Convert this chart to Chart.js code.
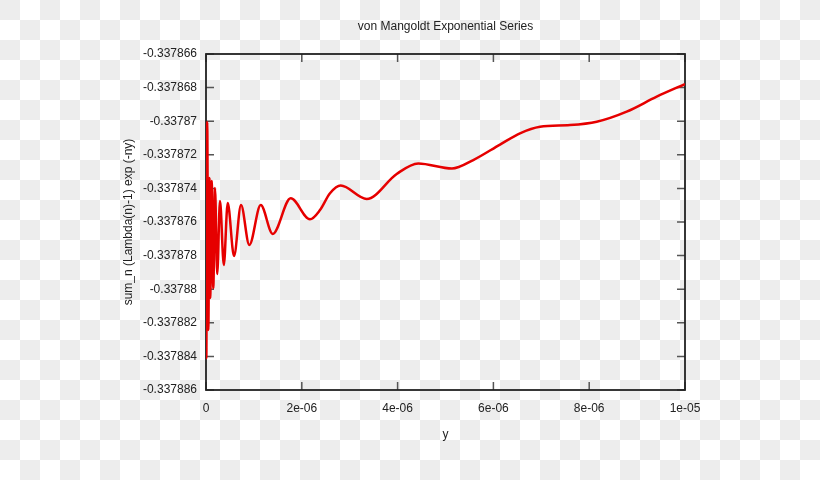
<!DOCTYPE html>
<html>
<head>
<meta charset="utf-8">
<title>von Mangoldt Exponential Series</title>
<script src="https://cdn.jsdelivr.net/npm/chart.js@4"></script>
<style>
  html, body { margin: 0; padding: 0; }
  body {
    width: 820px;
    height: 480px;
    /* transparency checkerboard of the original png */
    background: repeating-conic-gradient(#fff 0 25%, #ededed 0 50%) 0 0 / 40px 40px;
  }
  canvas { display: block; }
</style>
</head>
<body>
<canvas id="chart" width="820" height="480"></canvas>
<script>
// Data (y, sum value)
const yParam = [
  0, 0.0063e-6, 0.025e-6, 0.048e-6, 0.073e-6, 0.088e-6, 0.119e-6, 0.152e-6,
  0.188e-6, 0.234e-6, 0.292e-6, 0.372e-6, 0.453e-6, 0.585e-6, 0.731e-6, 0.904e-6,
  1.142e-6, 1.393e-6, 1.768e-6, 2.171e-6, 2.380e-6, 2.589e-6, 2.812e-6, 3.355e-6,
  3.981e-6, 4.432e-6, 5.135e-6, 5.580e-6, 6.138e-6, 6.555e-6, 6.974e-6, 7.599e-6,
  8.157e-6, 8.783e-6, 9.409e-6, 1.0e-5
];
const seriesSum = [
  -0.33788064, -0.33788410, -0.33787005, -0.33788243, -0.33787338, -0.33788052, -0.33787356, -0.33787993,
  -0.33787398, -0.33787910, -0.33787475, -0.33787856, -0.33787487, -0.33787802, -0.33787499, -0.33787737,
  -0.33787499, -0.33787671, -0.33787459, -0.33787584, -0.33787529, -0.33787429, -0.33787383, -0.33787463,
  -0.33787314, -0.33787252, -0.33787282, -0.33787231, -0.33787139, -0.33787072, -0.33787033, -0.33787023,
  -0.33787003, -0.33786943, -0.33786854, -0.33786779
];

// Tick values and labels
const xTicks = [0, 2e-6, 4e-6, 6e-6, 8e-6, 1e-5];
const xTickLabels = ['0', '2e-06', '4e-06', '6e-06', '8e-06', '1e-05'];
const yTicks = [
  -0.337886, -0.337884, -0.337882, -0.33788, -0.337878, -0.337876,
  -0.337874, -0.337872, -0.33787, -0.337868, -0.337866
];
const yTickLabels = [
  '-0.337886', '-0.337884', '-0.337882', '-0.33788', '-0.337878', '-0.337876',
  '-0.337874', '-0.337872', '-0.33787', '-0.337868', '-0.337866'
];

const chartTitle = 'von Mangoldt Exponential Series';
const TICK_LEN = 8;

Chart.defaults.font.family = '"Liberation Sans", Arial, sans-serif';
Chart.defaults.font.size = 12;
Chart.defaults.color = '#222';

// gnuplot style frame with inward ticks on all four sides, plus the title
// centred over the plot area (Chart.js centres its title on the whole canvas)
const framePlugin = {
  id: 'frame',
  beforeDatasetsDraw(chart) {
    const { ctx, chartArea: a, scales: { x, y } } = chart;
    ctx.save();
    ctx.strokeStyle = '#555';
    ctx.lineWidth = 1.5;
    ctx.beginPath();
    x.ticks.forEach(t => {
      const px = x.getPixelForValue(t.value);
      ctx.moveTo(px, a.bottom);
      ctx.lineTo(px, a.bottom - TICK_LEN);
      ctx.moveTo(px, a.top);
      ctx.lineTo(px, a.top + TICK_LEN);
    });
    y.ticks.forEach(t => {
      const py = y.getPixelForValue(t.value);
      ctx.moveTo(a.left, py);
      ctx.lineTo(a.left + TICK_LEN, py);
      ctx.moveTo(a.right, py);
      ctx.lineTo(a.right - TICK_LEN, py);
    });
    ctx.stroke();
    ctx.strokeStyle = '#222';
    ctx.lineWidth = 1.8;
    ctx.strokeRect(a.left, a.top, a.right - a.left, a.bottom - a.top);

    ctx.fillStyle = '#222';
    ctx.font = '12px "Liberation Sans", Arial, sans-serif';
    ctx.textAlign = 'center';
    ctx.textBaseline = 'middle';
    ctx.fillText(chartTitle, (a.left + a.right) / 2, a.top - 27);
    ctx.restore();
  }
};

new Chart(document.getElementById('chart'), {
  type: 'line',
  data: {
    datasets: [{
      data: yParam.map((v, i) => ({ x: v, y: seriesSum[i] })),
      borderColor: 'rgb(230, 0, 0)',
      borderWidth: 2.5,
      pointRadius: 0,
      fill: false,
      cubicInterpolationMode: 'monotone'
    }]
  },
  options: {
    responsive: false,
    devicePixelRatio: 1,
    animation: false,
    layout: { padding: { left: 0, right: 135, top: 54, bottom: 0 } },
    plugins: {
      legend: { display: false },
      tooltip: { enabled: false },
      title: { display: false }
    },
    scales: {
      x: {
        type: 'linear',
        min: 0,
        max: 1e-5,
        grid: { display: false, drawTicks: false },
        border: { display: false },
        afterBuildTicks: scale => { scale.ticks = xTicks.map(v => ({ value: v })); },
        afterFit: scale => { scale.height = 90; },
        ticks: {
          autoSkip: false,
          maxRotation: 0,
          padding: 11,
          callback: (value, index) => xTickLabels[index]
        },
        title: {
          display: true,
          text: 'y',
          padding: { top: 0, bottom: 38 }
        }
      },
      y: {
        type: 'linear',
        min: -0.337886,
        max: -0.337866,
        grid: { display: false, drawTicks: false },
        border: { display: false },
        afterBuildTicks: scale => { scale.ticks = yTicks.map(v => ({ value: v })); },
        afterFit: scale => { scale.width = 206; },
        ticks: {
          autoSkip: false,
          padding: 9,
          callback: (value, index) => yTickLabels[index]
        },
        title: {
          display: true,
          text: 'sum_n (Lambda(n)-1) exp (-ny)',
          padding: { top: 121, bottom: 0 }
        }
      }
    }
  },
  plugins: [framePlugin]
});
</script>
</body>
</html>
